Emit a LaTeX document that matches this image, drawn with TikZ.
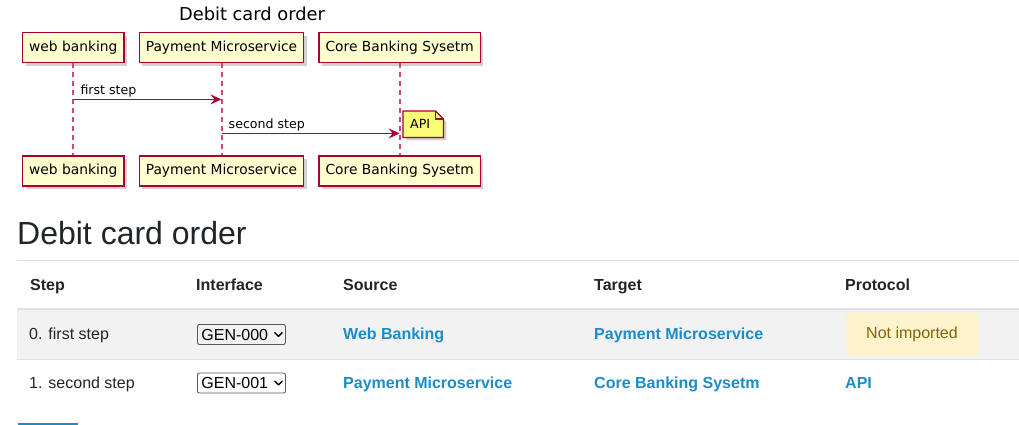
\documentclass[tikz,border=0pt]{standalone}
\usepackage{fontspec}
\setmainfont{Liberation Sans}
\newfontfamily\umlfont{DejaVu Sans}
\usepackage{tikz}
\usetikzlibrary{arrows.meta, positioning, calc, shadows, backgrounds}

\definecolor{umlred}{HTML}{A80036}
\definecolor{lifepink}{HTML}{CC4A7A}
\definecolor{umlfill}{HTML}{FEFECE}
\definecolor{notefill}{HTML}{FBFB77}
\definecolor{linkblue}{HTML}{1A8CCB}
\definecolor{ink}{HTML}{212529}
\definecolor{rulegray}{HTML}{DEE2E6}
\definecolor{stripe}{HTML}{F2F2F2}
\definecolor{warnfill}{HTML}{FFF3CD}
\definecolor{warnline}{HTML}{FFEEBA}
\definecolor{warntext}{HTML}{856404}

\begin{document}
\begin{tikzpicture}[
  x=1pt, y=-1pt,
  node distance=14pt,
  actor/.style={draw=umlred, line width=1.4pt, fill=umlfill, minimum height=30pt,
                inner xsep=6.5pt, font=\umlfont\fontsize{13.8}{16}\selectfont,
                drop shadow={shadow xshift=3pt, shadow yshift=-3pt, fill=black!45, opacity=.4}},
  life/.style={draw=lifepink, line width=2pt, dash pattern=on 5pt off 4pt},
  msg/.style={draw=umlred, line width=1.5pt, -{Stealth[length=11pt, width=10pt, inset=4pt]}},
  msglabel/.style={anchor=base west, inner sep=0pt, font=\umlfont\fontsize{12.6}{15}\selectfont},
  th/.style={anchor=base west, inner sep=0pt, text=ink, font=\fontsize{16}{19}\selectfont\bfseries},
  td/.style={anchor=base west, inner sep=0pt, text=ink, font=\fontsize{16}{19}\selectfont},
  link/.style={td, text=linkblue, font=\fontsize{16}{19}\selectfont\bfseries},
  pick/.style={draw=black!65, line width=.9pt, rounded corners=2pt, anchor=west, minimum height=20pt,
               text width=80pt, inner xsep=4pt, inner ysep=0pt, align=left,
               font=\fontsize{16}{19}\selectfont},
  chev/.style={line width=1.4pt, line cap=round, line join=round}
]
\useasboundingbox (0,0) rectangle (1019,425);

\node[anchor=base, font=\umlfont\fontsize{17.8}{20}\selectfont] (title) at (252,21) {Debit card order};

\node[actor, anchor=north west] (wbTop) at (22,32) {web banking};
\node[actor, right=of wbTop] (pmTop) {Payment Microservice};
\node[actor, right=of pmTop] (cbTop) {Core Banking Sysetm};
\node[actor, below=92pt of wbTop] (wbBot) {web banking};
\node[actor, below=92pt of pmTop] (pmBot) {Payment Microservice};
\node[actor, below=92pt of cbTop] (cbBot) {Core Banking Sysetm};

\draw[life] (wbTop) -- (wbBot);
\draw[life] (pmTop) -- (pmBot);
\draw[life] (cbTop) -- (cbBot);

\coordinate (firstFrom) at ($(wbTop.south)+(0,36)$);
\coordinate (firstTo) at ($(pmTop.south)+(0,36)$);
\coordinate (secondFrom) at ($(pmTop.south)+(0,70)$);
\coordinate (secondTo) at ($(cbTop.south)+(0,70)$);
\draw[msg] (firstFrom) -- (firstTo);
\draw[msg] (secondFrom) -- (secondTo);
\node[msglabel] (firstLbl) at ($(firstFrom)+(7,-5)$) {first step};
\node[msglabel] (secondLbl) at ($(secondFrom)+(7,-5)$) {second step};

\node[anchor=north west, minimum height=26pt, text width=26pt, inner xsep=7pt, inner ysep=0pt,
      font=\umlfont\fontsize{12.6}{15}\selectfont] (apiNote) at (403,111) {API};
\begin{scope}[on background layer]
  \fill[black!45, opacity=.4] ($(apiNote.north west)+(3,3)$) -- ($(apiNote.north east)+(-5,3)$)
    -- ($(apiNote.north east)+(3,11)$) -- ($(apiNote.south east)+(3,3)$) -- ($(apiNote.south west)+(3,3)$) -- cycle;
  \draw[umlred, fill=notefill, line width=1.2pt] (apiNote.north west) -- ($(apiNote.north east)+(-8,0)$)
    -- ($(apiNote.north east)+(0,8)$) -- (apiNote.south east) -- (apiNote.south west) -- cycle;
  \draw[umlred, line width=1.2pt] ($(apiNote.north east)+(-8,0)$) -- ($(apiNote.north east)+(-8,8)$)
    -- ($(apiNote.north east)+(0,8)$);
\end{scope}

\node[anchor=base west, inner sep=0pt, text=ink, font=\fontsize{32}{38}\selectfont] (heading) at (17,244) {Debit card order};

\fill[stripe] (17,310) rectangle (1019,359);
\draw[rulegray, line width=1pt] (17,260.5) -- (1019,260.5);
\draw[rulegray, line width=2.5pt] (17,309) -- (1019,309);
\draw[rulegray, line width=1pt] (17,359.5) -- (1019,359.5);

\node[th] (hStep) at (30,290) {Step};
\node[th] (hIface) at (196,290) {Interface};
\node[th] (hSource) at (343,290) {Source};
\node[th] (hTarget) at (594,290) {Target};
\node[th] (hProto) at (845,290) {Protocol};

\node[td] (step0) at (29,339) {0. first step};
\node[pick] (pick0) at (197,334.5) {GEN-000};
\draw[chev] ($(pick0.east)+(-11,-1.8)$) -- ++(3.6,3.6) -- ++(3.6,-3.6);
\node[link] (src0) at (343,339) {Web Banking};
\node[link] (dst0) at (594,339) {Payment Microservice};
\node[draw=warnline, fill=warnfill, rounded corners=2pt, minimum width=132pt, minimum height=43pt,
      text=warntext, font=\fontsize{16}{19}\selectfont] (proto0) at (912,334.5) {Not imported};

\node[td] (step1) at (29,388) {1. second step};
\node[pick] (pick1) at (197,383) {GEN-001};
\draw[chev] ($(pick1.east)+(-11,-1.8)$) -- ++(3.6,3.6) -- ++(3.6,-3.6);
\node[link] (src1) at (343,388) {Payment Microservice};
\node[link] (dst1) at (594,388) {Core Banking Sysetm};
\node[link] (proto1) at (845,388) {API};

\fill[linkblue] (18,423) rectangle (78,425);
\end{tikzpicture}
\end{document}
